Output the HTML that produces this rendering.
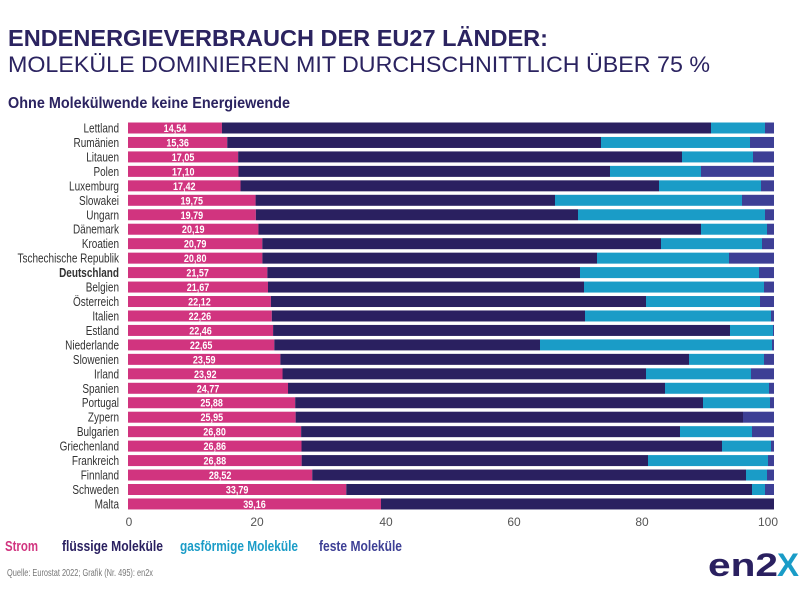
<!DOCTYPE html>
<html><head><meta charset="utf-8"><style>
html,body{margin:0;padding:0;background:#fff;width:800px;height:600px;overflow:hidden}
svg{display:block}
text{font-family:"Liberation Sans",sans-serif}
</style></head><body>
<svg id="s" width="800" height="600" xmlns="http://www.w3.org/2000/svg">
<text x="8" y="46" font-weight="bold" font-size="23" fill="#2b2360" textLength="540" lengthAdjust="spacingAndGlyphs">ENDENERGIEVERBRAUCH DER EU27 LÄNDER:</text>
<text x="8" y="72" font-size="22" fill="#2b2360" textLength="702" lengthAdjust="spacingAndGlyphs">MOLEKÜLE DOMINIEREN MIT DURCHSCHNITTLICH ÜBER 75 %</text>
<text x="8" y="108" font-weight="bold" font-size="16" fill="#2b2360" textLength="282" lengthAdjust="spacingAndGlyphs">Ohne Molekülwende keine Energiewende</text>
<g id="g"></g>
<g font-size="12" fill="#555" text-anchor="middle">
<text x="129" y="526">0</text><text x="257" y="526">20</text><text x="386" y="526">40</text><text x="514" y="526">60</text><text x="642" y="526">80</text><text x="768" y="526">100</text>
</g>
<g font-weight="bold" font-size="15">
<text x="5" y="551" fill="#d1347f" textLength="33" lengthAdjust="spacingAndGlyphs">Strom</text>
<text x="62" y="551" fill="#2a2060" textLength="101" lengthAdjust="spacingAndGlyphs">flüssige Moleküle</text>
<text x="180" y="551" fill="#1a9cc7" textLength="118" lengthAdjust="spacingAndGlyphs">gasförmige Moleküle</text>
<text x="319" y="551" fill="#3d3f95" textLength="83" lengthAdjust="spacingAndGlyphs">feste Moleküle</text>
</g>
<text x="7" y="576" font-size="10" fill="#777" textLength="146" lengthAdjust="spacingAndGlyphs">Quelle: Eurostat 2022; Grafik (Nr. 495): en2x</text>
<text x="708" y="576" font-weight="bold" font-size="32" fill="#2a2060" textLength="70" lengthAdjust="spacingAndGlyphs">en2</text>
<text x="777" y="576" font-weight="bold" font-size="32" fill="#1a9cc7" textLength="22" lengthAdjust="spacingAndGlyphs">X</text>
</svg>
<script>
var d=[["Lettland","14,54",711,765],["Rumänien","15,36",601,750],["Litauen","17,05",682,753],["Polen","17,10",610,701],["Luxemburg","17,42",659,761],["Slowakei","19,75",555,742],["Ungarn","19,79",578,765],["Dänemark","20,19",701,767],["Kroatien","20,79",661,762],["Tschechische Republik","20,80",597,729],["Deutschland","21,57",580,759],["Belgien","21,67",584,764],["Österreich","22,12",646,760],["Italien","22,26",585,771],["Estland","22,46",730,773],["Niederlande","22,65",540,772],["Slowenien","23,59",689,764],["Irland","23,92",646,751],["Spanien","24,77",665,769],["Portugal","25,88",703,770],["Zypern","25,95",743,743],["Bulgarien","26,80",680,752],["Griechenland","26,86",722,771],["Frankreich","26,88",648,768],["Finnland","28,52",746,767],["Schweden","33,79",752,765],["Malta","39,16",774,774]];
var g=document.getElementById("g"),h="";
function r(x1,x2,y,c){if(x2>x1)h+='<rect x="'+x1+'" y="'+y+'" width="'+(x2-x1)+'" height="11" fill="'+c+'"/>';}
d.forEach(function(a,i){var cy=128+i*14.46,y=cy-5.5;var v=parseFloat(a[1].replace(",","."));var s=128+v*6.46;
r(128,s,y,"#d1347f");r(s,a[2],y,"#2a2060");r(a[2],a[3],y,"#1a9cc7");r(a[3],774,y,"#3d3f95");
h+='<g transform="translate('+((128+s)/2)+','+(cy+4)+') scale(0.82,1)"><text x="0" y="0" text-anchor="middle" font-weight="bold" font-size="11" fill="#fff">'+a[1]+'</text></g>';
h+='<g transform="translate(119,'+(cy+4.5)+') scale(0.8,1)"><text x="0" y="0" text-anchor="end" font-size="12.5" fill="#333"'+(a[0]=="Deutschland"?' font-weight="bold"':'')+'>'+a[0]+'</text></g>';});
g.innerHTML=h;
</script>
</body></html>
